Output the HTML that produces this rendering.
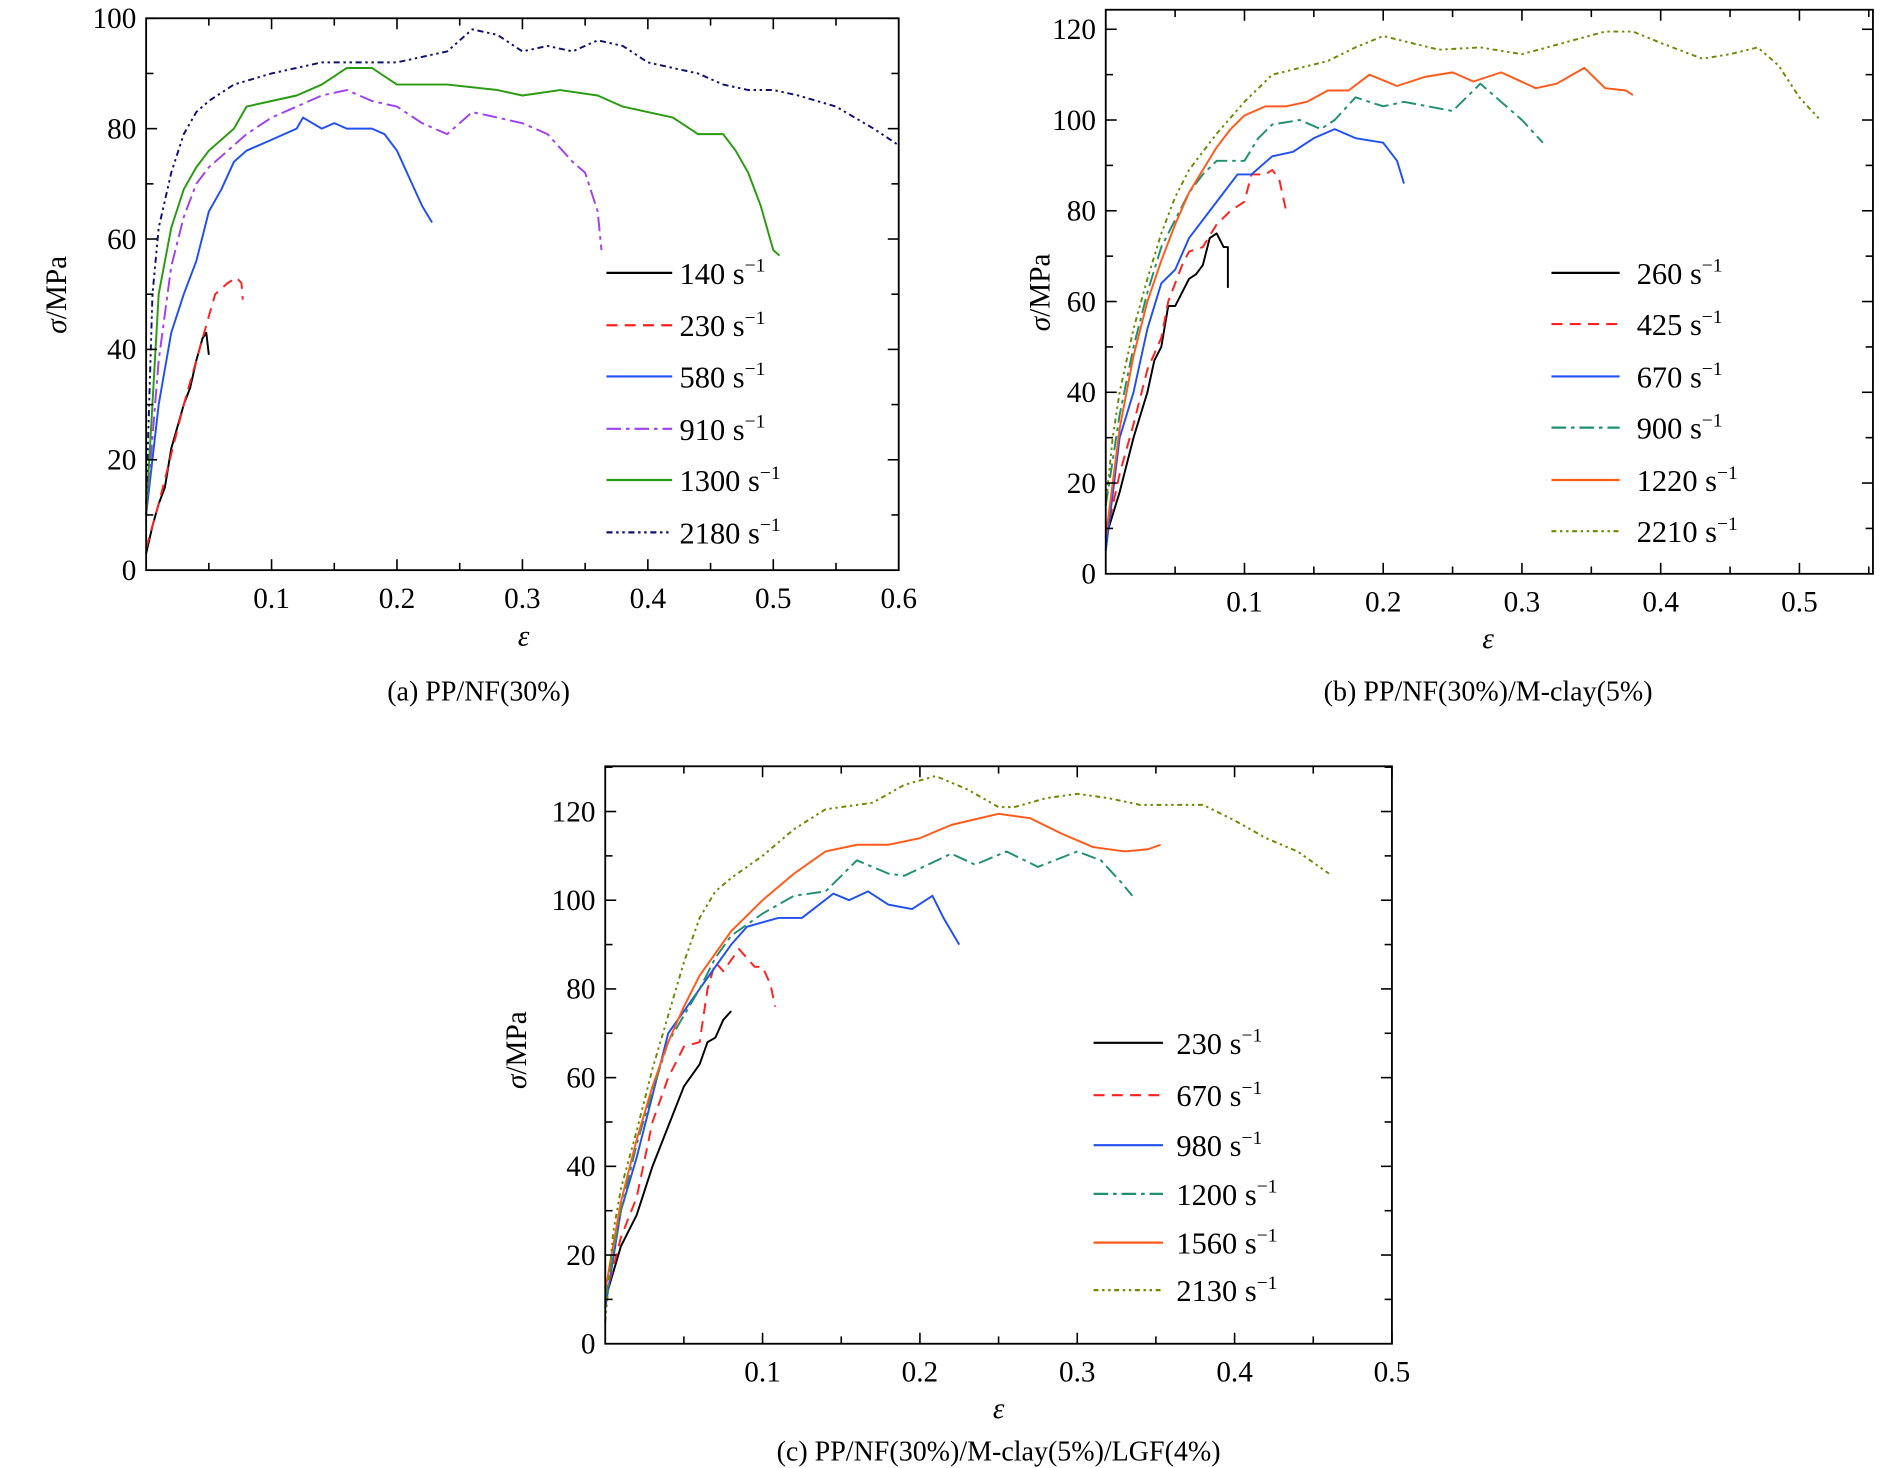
<!DOCTYPE html>
<html><head><meta charset="utf-8"><style>
html,body{margin:0;padding:0;background:#fff;}
svg{display:block;font-family:"Liberation Serif",serif;}
</style></head><body>
<svg id="fig" width="1890" height="1468" viewBox="0 0 1552 1205" preserveAspectRatio="none" xmlns="http://www.w3.org/2000/svg"></svg>
<script>
// ---- Panel (a) data ----
const aLabels = ["140","230","580","910","1300","2180"];
const a140 = [[0,3],[0.005,8],[0.01,12],[0.015,15],[0.02,22],[0.03,30],[0.035,33],[0.04,38],[0.045,42],[0.048,43],[0.05,39]];
const a230 = [[0,4],[0.01,12],[0.02,21],[0.03,30],[0.04,38],[0.05,46],[0.055,50],[0.065,52],[0.072,53],[0.076,52],[0.077,49]];
const a580 = [[0,10],[0.01,30],[0.02,43],[0.03,50],[0.04,56],[0.05,65],[0.06,69],[0.07,74],[0.08,76],[0.1,78],[0.12,80],[0.125,82],[0.14,80],[0.15,81],[0.16,80],[0.18,80],[0.19,79],[0.2,76],[0.21,71],[0.22,66],[0.228,63]];
const a910 = [[0,10],[0.01,38],[0.02,55],[0.03,64],[0.04,70],[0.05,73],[0.06,75],[0.08,79],[0.1,82],[0.12,84],[0.14,86],[0.16,87],[0.18,85],[0.2,84],[0.22,81],[0.24,79],[0.26,83],[0.28,82],[0.3,81],[0.32,79],[0.34,74],[0.35,72],[0.36,65],[0.363,58]];
const a1300 = [[0,10],[0.01,50],[0.02,62],[0.03,69],[0.04,73],[0.05,76],[0.07,80],[0.08,84],[0.1,85],[0.12,86],[0.14,88],[0.16,91],[0.18,91],[0.2,88],[0.22,88],[0.24,88],[0.28,87],[0.3,86],[0.33,87],[0.36,86],[0.38,84],[0.4,83],[0.42,82],[0.44,79],[0.46,79],[0.47,76],[0.48,72],[0.49,66],[0.5,58],[0.505,57]];
const a2180 = [[0,12],[0.005,50],[0.01,62],[0.02,72],[0.03,79],[0.04,83],[0.05,85],[0.07,88],[0.1,90],[0.14,92],[0.18,92],[0.2,92],[0.22,93],[0.24,94],[0.26,98],[0.28,97],[0.3,94],[0.32,95],[0.34,94],[0.36,96],[0.38,95],[0.4,92],[0.42,91],[0.44,90],[0.46,88],[0.48,87],[0.5,87],[0.52,86],[0.55,84],[0.58,80],[0.6,77]];
// ---- Panel (b) data ----
const bLabels = ["260","425","670","900","1220","2210"];
const b260 = [[0,8],[0.01,18],[0.02,30],[0.03,40],[0.035,47],[0.04,50],[0.045,59],[0.05,59],[0.06,65],[0.065,66],[0.07,68],[0.075,74],[0.08,75],[0.085,72],[0.088,72],[0.088,63]];
const b425 = [[0,8],[0.01,22],[0.02,33],[0.03,45],[0.04,52],[0.045,60],[0.055,68],[0.06,71],[0.07,72],[0.08,77],[0.09,80],[0.1,82],[0.105,88],[0.115,88],[0.12,89],[0.125,87],[0.13,80]];
const b670 = [[0,5],[0.01,30],[0.02,40],[0.03,54],[0.04,64],[0.05,67],[0.06,74],[0.08,82],[0.095,88],[0.105,88],[0.12,92],[0.135,93],[0.15,96],[0.165,98],[0.18,96],[0.2,95],[0.21,91],[0.215,86]];
const b900 = [[0,15],[0.01,35],[0.02,50],[0.03,62],[0.04,72],[0.05,78],[0.06,84],[0.07,88],[0.08,91],[0.1,91],[0.11,96],[0.12,99],[0.14,100],[0.155,98],[0.165,100],[0.18,105],[0.2,103],[0.215,104],[0.25,102],[0.27,108],[0.285,104],[0.3,100],[0.315,95]];
const b1220 = [[0,8],[0.01,32],[0.02,48],[0.03,60],[0.04,69],[0.05,77],[0.06,84],[0.07,89],[0.08,94],[0.09,98],[0.1,101],[0.115,103],[0.13,103],[0.145,104],[0.16,106.5],[0.175,106.5],[0.19,110],[0.21,107.5],[0.23,109.5],[0.25,110.5],[0.265,108.5],[0.285,110.5],[0.31,107],[0.325,108],[0.345,111.5],[0.36,107],[0.375,106.5],[0.38,105.5]];
const b2210 = [[0,15],[0.005,30],[0.01,40],[0.02,54],[0.03,65],[0.04,75],[0.05,83],[0.06,89],[0.08,97],[0.1,104],[0.12,110],[0.14,111.5],[0.16,113],[0.18,116],[0.2,118.5],[0.22,117],[0.24,115.5],[0.27,116],[0.3,114.5],[0.33,117],[0.36,119.5],[0.38,119.5],[0.4,117],[0.43,113.5],[0.45,114.5],[0.47,116],[0.485,112],[0.5,105],[0.515,100]];
// ---- Panel (c) data ----
const cLabels = ["230","670","980","1200","1560","2130"];
const c230 = [[0,10],[0.01,22],[0.02,29],[0.03,40],[0.04,49],[0.05,58],[0.06,63],[0.065,68],[0.07,69],[0.075,73],[0.08,75]];
const c670 = [[0,10],[0.01,24],[0.02,33],[0.03,50],[0.04,60],[0.05,67],[0.06,68],[0.065,80],[0.07,86],[0.075,84],[0.085,89],[0.095,85],[0.1,85],[0.105,81],[0.108,76]];
const c980 = [[0,8],[0.01,30],[0.02,42],[0.03,56],[0.04,70],[0.05,75],[0.06,80],[0.07,85],[0.08,90],[0.09,94],[0.1,95],[0.11,96],[0.125,96],[0.145,101.5],[0.155,100],[0.167,102],[0.18,99],[0.195,98],[0.208,101],[0.215,96],[0.225,90]];
const c1200 = [[0,10],[0.01,30],[0.02,45],[0.03,57],[0.04,68],[0.05,74],[0.06,80],[0.07,87],[0.08,92],[0.1,97],[0.12,101],[0.14,102],[0.16,109],[0.18,106],[0.19,105.5],[0.205,108],[0.22,110.5],[0.235,108],[0.255,111],[0.275,107.5],[0.3,111],[0.315,109],[0.328,104],[0.335,101]];
const c1560 = [[0,12],[0.01,32],[0.02,46],[0.03,58],[0.04,68],[0.05,76],[0.06,83],[0.08,93],[0.1,100],[0.12,106],[0.14,111],[0.16,112.5],[0.18,112.5],[0.2,114],[0.22,117],[0.25,119.5],[0.27,118.5],[0.29,115],[0.31,112],[0.33,111],[0.345,111.5],[0.353,112.5]];
const c2130 = [[0,5],[0.005,25],[0.01,35],[0.02,48],[0.03,62],[0.04,74],[0.05,86],[0.06,96],[0.07,102],[0.08,105],[0.1,110],[0.12,116],[0.14,120.5],[0.17,122],[0.19,126],[0.21,128],[0.23,125],[0.25,121],[0.26,121],[0.28,123],[0.3,124],[0.32,123],[0.34,121.5],[0.38,121.5],[0.4,118],[0.42,114],[0.44,111],[0.46,106]];
const aXTicks = ["0.1","0.2","0.3","0.4","0.5","0.6"];
const bXTicks = ["0.1","0.2","0.3","0.4","0.5"];
const cXTicks = ["0.1","0.2","0.3","0.4","0.5"];

const NS = "http://www.w3.org/2000/svg";
const svg = document.getElementById('fig');
function mk(tag, attrs, parent){ const e=document.createElementNS(NS,tag); for(const k in attrs) e.setAttribute(k,attrs[k]); (parent||svg).appendChild(e); return e; }

const styles = {
  a:[["#000","none"],["#ff2020","9,6"],["#2050f0","none"],["#a040f0","12,4,3,4"],["#2a9a10","none"],["#101070","5,3,2,3,2,3"]],
  b:[["#000","none"],["#ff2020","9,6"],["#2050f0","none"],["#209070","12,4,3,4"],["#ff5a1a","none"],["#6a8a00","4,3,2,3,2,3"]],
  c:[["#000","none"],["#ff2020","9,6"],["#2050f0","none"],["#209070","12,4,3,4"],["#ff5a1a","none"],["#6a8a00","4,3,2,3,2,3"]]
};

function panel(cfg){
  const g = mk('g',{});
  
  
  const {L,R,T,B,xmax,ymax} = cfg;
  const sx = v => L + v/xmax*(R-L);
  const sy = v => B - v/ymax*(B-T);
  cfg.series.forEach((s,i)=>{
    const d = s.map((p,j)=>(j?'L':'M')+sx(p[0]).toFixed(1)+','+sy(p[1]).toFixed(1)).join(' ');
    const p = mk('path',{d:d,fill:'none',stroke:styles[cfg.key][i][0],'stroke-width':1.6,'stroke-dasharray':styles[cfg.key][i][1],'stroke-linejoin':'round'},g);
    
    
  });
  const fr = mk('rect',{x:L,y:T,width:R-L,height:B-T,fill:'none',stroke:'#000','stroke-width':1.5},g);
  
  
  for(let v=0.05; v<=cfg.xmaxTick+1e-9; v+=0.05){
    const x=sx(v), major=Math.round(v*100)%10===0, len=major?9:6;
    mk('line',{x1:x,y1:B,x2:x,y2:B-len,stroke:'#000','stroke-width':1.3},g);
    mk('line',{x1:x,y1:T,x2:x,y2:T+len,stroke:'#000','stroke-width':1.3},g);
  }
  cfg.xTicks.forEach(t=>{
    const tx = mk('text',{x:sx(parseFloat(t)),y:B+31,'text-anchor':'middle','font-size':24},g);
    tx.textContent=t;
    
    
  });
  for(let v=10; v<=cfg.ymaxTick; v+=10){
    const y=sy(v), major=v%20===0, len=major?9:6;
    mk('line',{x1:L,y1:y,x2:L+len,y2:y,stroke:'#000','stroke-width':1.3},g);
    mk('line',{x1:R,y1:y,x2:R-len,y2:y,stroke:'#000','stroke-width':1.3},g);
  }
  for(let v=0; v<=cfg.ymaxTick; v+=20){
    const tx = mk('text',{x:L-8,y:sy(v)+8,'text-anchor':'end','font-size':24},g);
    tx.textContent=String(v);
    
    
  }
  const xt = mk('text',{x:cfg.epsX,y:cfg.epsY,'text-anchor':'middle','font-size':24,'font-style':'italic'},g);
  xt.textContent='ε';
  
  
  const yt = mk('text',{x:0,y:0,'text-anchor':'middle','font-size':24,transform:`translate(${cfg.ylX},${cfg.ylY}) rotate(-90)`},g);
  yt.innerHTML='<tspan font-style="italic">σ</tspan>/MPa';
  
  
  const cap = mk('text',{x:cfg.capX,y:cfg.capY,'text-anchor':'middle','font-size':23},g);
  cap.textContent=cfg.caption;
  
  
  cfg.labels.forEach((lab,i)=>{
    const y = cfg.legY[i];
    const lg = mk('g',{},g);
    
    
    mk('line',{x1:cfg.legX1,y1:y,x2:cfg.legX2,y2:y,stroke:styles[cfg.key][i][0],'stroke-width':1.8,'stroke-dasharray':styles[cfg.key][i][1]},lg);
    const t = mk('text',{x:cfg.legT,y:y+9,'font-size':25},lg);
    t.innerHTML = lab+' s<tspan dy="-10" font-size="16">−1</tspan>';
  });
}

panel({key:'a',name:'panel-a',L:120,R:738,T:15,B:468,xmax:0.6,ymax:100,xmaxTick:0.6,ymaxTick:100,
  xTicks:aXTicks,series:[a140,a230,a580,a910,a1300,a2180],labels:aLabels,
  epsX:430,epsY:530,ylX:54,ylY:242,capX:393,capY:575,caption:'(a) PP/NF(30%)',
  legX1:498,legX2:552,legT:558,legY:[224,267,309,352,394,437]});
panel({key:'b',name:'panel-b',L:908,R:1538,T:8,B:471,xmax:0.553,ymax:124.3,xmaxTick:0.55,ymaxTick:120,
  xTicks:bXTicks,series:[b260,b425,b670,b900,b1220,b2210],labels:bLabels,
  epsX:1222,epsY:532,ylX:862,ylY:240,capX:1222,capY:575,caption:'(b) PP/NF(30%)/M-clay(5%)',
  legX1:1274,legX2:1330,legT:1344,legY:[224,266,309,351,394,436]});
panel({key:'c',name:'panel-c',L:497,R:1143,T:629,B:1103,xmax:0.5,ymax:130.2,xmaxTick:0.5,ymaxTick:130,
  xTicks:cXTicks,series:[c230,c670,c980,c1200,c1560,c2130],labels:cLabels,
  epsX:820,epsY:1164,ylX:432,ylY:862,capX:820,capY:1199,caption:'(c) PP/NF(30%)/M-clay(5%)/LGF(4%)',
  legX1:898,legX2:955,legT:966,legY:[856,899,940,980,1020,1059]});
</script>
</body></html>
